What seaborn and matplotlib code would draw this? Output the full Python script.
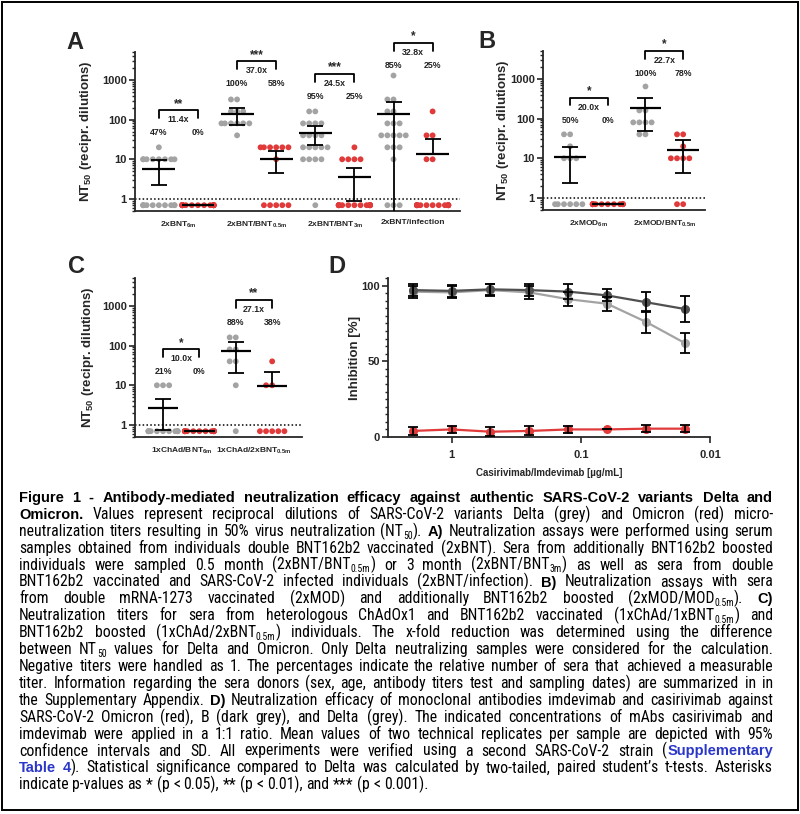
import numpy as np
import pandas as pd
import matplotlib
matplotlib.use('Agg')
import matplotlib.pyplot as plt
import matplotlib.ticker as mticker
from matplotlib import font_manager
from matplotlib.patches import Rectangle
import seaborn as sns

# ---------------- data ----------------
# Panel A: NT50 titers (negative samples plotted at 0.7)
A_GROUPS = ['2xBNT$_{6m}$', '2xBNT/BNT$_{0.5m}$', '2xBNT/BNT$_{3m}$', '2xBNT/infection']
A_DELTA = [
    [20, 10, 10, 10, 10, 10, 10, 10, 10, 0.7, 0.7, 0.7, 0.7, 0.7, 0.7, 0.7, 0.7, 0.7, 0.7],
    [320, 320, 160, 160, 160, 80, 80, 80, 80, 80, 80, 40],
    [160, 160, 80, 80, 80, 80, 40, 40, 40, 40, 20, 20, 20, 20, 20, 10, 10, 10, 10, 0.7],
    [1280, 320, 320, 160, 160, 80, 80, 80, 40, 40, 40, 40, 40, 20, 20, 20, 10, 0.7, 0.7, 0.7],
]
A_OMICRON = [
    [0.7, 0.7, 0.7, 0.7, 0.7, 0.7, 0.7, 0.7, 0.7, 0.7, 0.7, 0.7, 0.7, 0.7, 0.7, 0.7, 0.7, 0.7, 0.7],
    [20, 20, 20, 20, 20, 20, 10, 0.7, 0.7, 0.7, 0.7, 0.7],
    [20, 10, 10, 10, 10, 0.7, 0.7, 0.7, 0.7, 0.7, 0.7, 0.7, 0.7, 0.7, 0.7, 0.7, 0.7, 0.7, 0.7, 0.7],
    [160, 40, 40, 10, 10, 0.7, 0.7, 0.7, 0.7, 0.7, 0.7, 0.7, 0.7, 0.7, 0.7, 0.7, 0.7, 0.7, 0.7, 0.7],
]
# mean and error limits per slot (Delta, Omicron, Delta, Omicron, ...)
A_MEAN = [5.7, 0.7, 139, 10.4, 46, 3.5, 139, 13.5]
A_LOW = [2.3, 0.7, 73, 4.5, 23, 0.9, 0.3, 13.5]
A_HIGH = [9.5, 0.7, 200, 16.4, 68, 6.2, 280, 32]
A_BRACKET = [170, 2900, 1380, 8300]
A_STARS = ['**', '***', '***', '*']
A_FOLD = ['11.4x', '37.0x', '24.5x', '32.8x']
A_PCT = [('47%', '0%'), ('100%', '58%'), ('95%', '25%'), ('85%', '25%')]

# Panel B
B_GROUPS = ['2xMOD$_{6m}$', '2xMOD/BNT$_{0.5m}$']
B_DELTA = [
    [40, 40, 20, 10, 10, 10, 0.7, 0.7, 0.7, 0.7, 0.7, 0.7],
    [640, 160, 160, 80, 80, 80, 80, 40, 40],
]
B_OMICRON = [
    [0.7, 0.7, 0.7, 0.7, 0.7, 0.7, 0.7, 0.7, 0.7, 0.7, 0.7, 0.7],
    [40, 40, 20, 10, 10, 10, 10, 0.7, 0.7],
]
B_MEAN = [10.6, 0.7, 186, 16.5]
B_LOW = [2.4, 0.7, 48, 4.3]
B_HIGH = [18.8, 0.7, 325, 28.5]
B_BRACKET = [330, 5000]
B_STARS = ['*', '*']
B_FOLD = ['20.0x', '22.7x']
B_PCT = [('50%', '0%'), ('100%', '78%')]

# Panel C
C_GROUPS = ['1xChAd/BNT$_{6m}$', '1xChAd/2xBNT$_{0.5m}$']
C_DELTA = [
    [10, 10, 10, 0.7, 0.7, 0.7, 0.7, 0.7, 0.7, 0.7, 0.7, 0.7, 0.7, 0.7],
    [160, 160, 80, 80, 40, 40, 10, 0.7],
]
C_OMICRON = [
    [0.7, 0.7, 0.7, 0.7, 0.7, 0.7, 0.7, 0.7, 0.7, 0.7, 0.7, 0.7, 0.7, 0.7],
    [40, 10, 10, 0.7, 0.7, 0.7, 0.7, 0.7],
]
C_MEAN = [2.7, 0.7, 73, 9.4]
C_LOW = [0.75, 0.7, 20, 9.4]
C_HIGH = [4.6, 0.7, 123, 21]
C_BRACKET = [80, 1400]
C_STARS = ['*', '**']
C_FOLD = ['10.0x', '27.1x']
C_PCT = [('21%', '0%'), ('88%', '38%')]

# Panel D: inhibition vs casirivimab/imdevimab concentration
D_CONC = [2, 1, 0.5, 0.25, 0.125, 0.0625, 0.03125, 0.015625]
D_DELTA = [96, 95.5, 97, 95.5, 91, 88, 76, 62]
D_DELTA_ERR = [4, 4, 4, 4.5, 4.5, 4.5, 7, 6.5]
D_B = [97, 96.5, 97.5, 97, 96, 93.5, 89, 84.5]
D_B_ERR = [4, 4, 3.5, 4, 5, 4, 6.5, 8.5]
D_OMICRON = [4, 5, 3.5, 4, 5, 5, 5.5, 5.5]
D_OMICRON_ERR = [2.5, 2.5, 3, 3, 2.5, 0, 2.5, 2.5]

CAPTION = [
    [('Figure 1 - Antibody-mediated neutralization efficacy against authentic SARS-CoV-2 variants Delta and', 'b')],
    [('Omicron.', 'b'), (' Values represent reciprocal dilutions of SARS-CoV-2 variants Delta (grey) and Omicron (red) micro-', 'r')],
    [('neutralization titers resulting in 50% virus neutralization (NT', 'r'), ('50', 's'), ('). ', 'r'),
     ('A)', 'b'), (' Neutralization assays were performed using serum', 'r')],
    [('samples obtained from individuals double BNT162b2 vaccinated (2xBNT). Sera from additionally BNT162b2 boosted', 'r')],
    [('individuals were sampled 0.5 month (2xBNT/BNT', 'r'), ('0.5m', 's'), (') or 3 month (2xBNT/BNT', 'r'),
     ('3m', 's'), (') as well as sera from double', 'r')],
    [('BNT162b2 vaccinated and SARS-CoV-2 infected individuals (2xBNT/infection). ', 'r'), ('B)', 'b'),
     (' Neutralization assays with sera', 'r')],
    [('from double mRNA-1273 vaccinated (2xMOD) and additionally BNT162b2 boosted (2xMOD/MOD', 'r'), ('0.5m', 's'),
     ('). ', 'r'), ('C)', 'b')],
    [('Neutralization titers for sera from heterologous ChAdOx1 and BNT162b2 vaccinated (1xChAd/1xBNT', 'r'),
     ('0.5m', 's'), (') and', 'r')],
    [('BNT162b2 boosted (1xChAd/2xBNT', 'r'), ('0.5m', 's'),
     (') individuals. The x-fold reduction was determined using the difference', 'r')],
    [('between NT', 'r'), ('50', 's'),
     (' values for Delta and Omicron. Only Delta neutralizing samples were considered for the calculation.', 'r')],
    [('Negative titers were handled as 1. The percentages indicate the relative number of sera that achieved a measurable', 'r')],
    [('titer. Information regarding the sera donors (sex, age, antibody titers test and sampling dates) are summarized in in', 'r')],
    [('the Supplementary Appendix. ', 'r'), ('D)', 'b'),
     (' Neutralization efficacy of monoclonal antibodies imdevimab and casirivimab against', 'r')],
    [('SARS-CoV-2 Omicron (red), B (dark grey), and Delta (grey). The indicated concentrations of mAbs casirivimab and', 'r')],
    [('imdevimab were applied in a 1:1 ratio. Mean values of two technical replicates per sample are depicted with 95%', 'r')],
    [('confidence intervals and SD. All experiments were verified using a second SARS-CoV-2 strain (', 'r'),
     ('Supplementary', 'bl')],
    [('Table 4', 'bl'), ('). Statistical significance compared to Delta was calculated by two-tailed, paired student\u2019s t-tests. Asterisks', 'r')],
    [('indicate p-values as * (p < 0.05), ** (p < 0.01), and *** (p < 0.001).', 'r')],
]

GREY = '#a3a3a3'
RED = '#e03a3a'
DARK = '#505050'

W, H = 800, 814

sns.set_style('ticks')
plt.rcParams['font.family'] = ['Liberation Sans', 'DejaVu Sans']
plt.rcParams['mathtext.fontset'] = 'custom'
plt.rcParams['mathtext.rm'] = 'Liberation Sans'
plt.rcParams['mathtext.bf'] = 'Liberation Sans:bold'
plt.rcParams['mathtext.it'] = 'Liberation Sans:italic'
plt.rcParams['mathtext.default'] = 'regular'
plt.rcParams['font.weight'] = 'bold'


def px_axes(fig, left, top, right, bottom):
    return fig.add_axes([left / W, 1 - bottom / H, (right - left) / W, (bottom - top) / H])


def style_axis(ax):
    sns.despine(ax=ax)
    for s in ('left', 'bottom'):
        ax.spines[s].set_linewidth(1.3)
    ax.tick_params(axis='both', which='major', width=1.2, length=4, labelsize=8, pad=2)
    ax.tick_params(axis='y', which='minor', width=1.0, length=2.2)


def titer_panel(ax, groups, delta, omicron, mean, low, high, brackets, stars, folds, pcts, xlim):
    ax.set_yscale('log')
    rows, order = [], []
    for i in range(len(groups)):
        for var, vals in (('Delta', delta[i]), ('Omicron', omicron[i])):
            slot = f'{i}{var}'
            order.append(slot)
            rows += [(slot, v, var) for v in vals]
    df = pd.DataFrame(rows, columns=['slot', 'titer', 'variant'])
    sns.swarmplot(data=df, x='slot', y='titer', hue='variant', order=order,
                  palette={'Delta': GREY, 'Omicron': RED}, size=4.2, linewidth=0,
                  legend=False, ax=ax, zorder=2, warn_thresh=1)
    pos = np.arange(len(order))
    mean, low, high = np.array(mean), np.array(low), np.array(high)
    ax.errorbar(pos, mean, yerr=[mean - low, high - mean], fmt='none', ecolor='black',
                elinewidth=1.3, capsize=5.5, capthick=1.3, zorder=4)
    ax.hlines(mean, pos - 0.42, pos + 0.42, color='black', lw=1.6, zorder=4)
    ax.axhline(1, ls=(0, (1, 1.5)), color='black', lw=1.1, zorder=1)
    ax.set_ylim(0.5, 5000)
    ax.set_xlim(*xlim)
    ax.yaxis.set_major_locator(mticker.FixedLocator([1, 10, 100, 1000]))
    ax.yaxis.set_major_formatter(mticker.FixedFormatter(['1', '10', '100', '1000']))
    ax.yaxis.set_minor_locator(mticker.LogLocator(base=10, subs=np.arange(2, 10)))
    ax.yaxis.set_minor_formatter(mticker.NullFormatter())
    ax.set_xticks(np.arange(len(groups)) * 2 + 0.5)
    ax.set_xticklabels(groups)
    ax.set_xlabel('')
    ax.set_ylabel('NT$_{50}$ (recipr. dilutions)', fontsize=9.5, fontweight='bold')
    style_axis(ax)
    ax.tick_params(axis='x', length=0, pad=6, labelsize=6)
    for i, y in enumerate(brackets):
        x0, x1 = 2 * i, 2 * i + 1
        leg = y / 10 ** 0.19
        ax.plot([x0, x0, x1, x1], [leg, y, y, leg], color='black', lw=1.3, clip_on=False)
        ax.text((x0 + x1) / 2, y * 1.04, stars[i], ha='center', va='bottom', fontsize=8.5,
                fontweight='bold', clip_on=False)
        ax.text((x0 + x1) / 2, y / 10 ** 0.23, folds[i], ha='center', va='center',
                fontsize=6.3, fontweight='bold', color='#222222', clip_on=False)
        for x, s in zip((x0, x1), pcts[i]):
            ax.text(x, y / 10 ** 0.56, s, ha='center', va='center', fontsize=6.3,
                    fontweight='bold', color='#222222', clip_on=False)


fig = plt.figure(figsize=(W / 100, H / 100), dpi=100)

axA = px_axes(fig, 135, 52, 460, 211)
titer_panel(axA, A_GROUPS, A_DELTA, A_OMICRON, A_MEAN, A_LOW, A_HIGH,
            A_BRACKET, A_STARS, A_FOLD, A_PCT, (-0.61, 7.7))
axA.yaxis.set_label_coords(-0.125, 0.5)

axB = px_axes(fig, 543, 51, 705, 210)
titer_panel(axB, B_GROUPS, B_DELTA, B_OMICRON, B_MEAN, B_LOW, B_HIGH,
            B_BRACKET, B_STARS, B_FOLD, B_PCT, (-0.72, 3.58))
axB.yaxis.set_label_coords(-0.2, 0.5)

axC = px_axes(fig, 135, 278, 302, 437)
titer_panel(axC, C_GROUPS, C_DELTA, C_OMICRON, C_MEAN, C_LOW, C_HIGH,
            C_BRACKET, C_STARS, C_FOLD, C_PCT, (-0.77, 3.82))
axC.yaxis.set_label_coords(-0.235, 0.5)

# Panel D
axD = px_axes(fig, 388, 278, 710, 437)
d_rows = []
for var, vals in (('Delta', D_DELTA), ('B', D_B), ('Omicron', D_OMICRON)):
    d_rows += [(c, v, var) for c, v in zip(D_CONC, vals)]
df_d = pd.DataFrame(d_rows, columns=['conc', 'inhibition', 'variant'])
axD.set_xscale('log')
sns.lineplot(data=df_d, x='conc', y='inhibition', hue='variant', hue_order=['Delta', 'B', 'Omicron'],
             palette={'Delta': GREY, 'B': DARK, 'Omicron': RED}, marker='o', markersize=6.5,
             markeredgewidth=0, linewidth=1.6, errorbar=None, legend=False, ax=axD, zorder=2)
for vals, err in ((D_DELTA, D_DELTA_ERR), (D_B, D_B_ERR), (D_OMICRON, D_OMICRON_ERR)):
    axD.errorbar(D_CONC, vals, yerr=err, fmt='none', ecolor='black', elinewidth=1.3,
                 capsize=3.5, capthick=1.3, zorder=3)
axD.set_xlim(3.1, 0.01)
axD.set_ylim(0, 105)
axD.xaxis.set_major_locator(mticker.FixedLocator([1, 0.1, 0.01]))
axD.xaxis.set_major_formatter(mticker.FixedFormatter(['1', '0.1', '0.01']))
axD.xaxis.set_minor_locator(mticker.NullLocator())
axD.yaxis.set_major_locator(mticker.FixedLocator([0, 50, 100]))
axD.yaxis.set_minor_locator(mticker.MultipleLocator(5))
axD.set_xlabel('Casirivimab/Imdevimab [\u00b5g/mL]', fontsize=7, fontweight='bold', labelpad=6)
axD.set_ylabel('Inhibition [%]', fontsize=9.5, fontweight='bold')
style_axis(axD)
axD.tick_params(axis='x', pad=5)
axD.yaxis.set_label_coords(-0.085, 0.5)

for letter, x, y in (('A', 66, 49), ('B', 478, 48), ('C', 68, 273), ('D', 328, 273)):
    fig.text(x / W, 1 - y / H, letter, fontsize=17, fontweight='bold', va='baseline', ha='left')

# ---------------- justified caption ----------------
# prefer a narrow sans for the body text, as in the reference
narrow_family, narrow_stretch = 'Liberation Sans', 'normal'
entries = font_manager.fontManager.ttflist
for fam in ('Liberation Sans Narrow', 'Arial Narrow', 'Roboto Condensed', 'Open Sans Condensed',
            'Noto Sans Condensed', 'Noto Sans', 'Open Sans', 'Roboto'):
    hit = [e for e in entries if e.name == fam and e.style == 'normal'
           and ('Narrow' in fam or 'Condensed' in fam or e.stretch in ('condensed', 'semi-condensed'))]
    if hit:
        narrow_family = fam
        narrow_stretch = 'normal' if ('Narrow' in fam or 'Condensed' in fam) else hit[0].stretch
        break

renderer = fig.canvas.get_renderer()


def fonts(fs, bfs):
    return {
        'r': dict(family=narrow_family, stretch=narrow_stretch, size=fs, weight='normal', color='black'),
        'b': dict(family='Liberation Sans', size=bfs, weight='bold', color='black'),
        'bl': dict(family='Liberation Sans', size=bfs, weight='bold', color='#2a36c8'),
        's': dict(family=narrow_family, stretch=narrow_stretch, size=fs * 0.62, weight='normal', color='black'),
    }


def text_width(s, props):
    t = fig.text(0, 0, s, **props)
    w = t.get_window_extent(renderer).width
    t.remove()
    return w


def split_words(line):
    words, cur = [], []
    for text, st in line:
        parts = text.split(' ')
        for j, part in enumerate(parts):
            if j > 0 and cur:
                words.append(cur)
                cur = []
            if part:
                cur.append((part, st))
    if cur:
        words.append(cur)
    return words


LEFT, RIGHT = 19, 773
TOP_BASE, STEP = 502, 16.9
lines = [split_words(l) for l in CAPTION]


def measure(fs, bfs):
    f = fonts(fs, bfs)
    space = text_width('a a', f['r']) - text_width('aa', f['r'])
    widths = [[[text_width(p, f[st]) for p, st in w] for w in words] for words in lines]
    return f, space, widths


def line_ratio(ws, space):
    return (sum(sum(w) for w in ws) + space * (len(ws) - 1)) / (RIGHT - LEFT)


# regular text size fitted on the body lines, bold title line fitted on its own
fs = bfs = 10.5
f, space, widths = measure(fs, bfs)
body = max(line_ratio(ws, space) for ws in widths[1:])
fs = min(12.5, fs * 0.975 / body)
title = line_ratio(widths[0], space)
if title > 0.985:
    bfs = bfs * 0.985 / title
f, space, widths = measure(fs, bfs)

for li, (words, ws) in enumerate(zip(lines, widths)):
    total = sum(sum(w) for w in ws)
    if li < len(lines) - 1 and len(words) > 1:
        gap = (RIGHT - LEFT - total) / (len(words) - 1)
    else:
        gap = space
    x = LEFT
    y = TOP_BASE + STEP * li
    for word, wl in zip(words, ws):
        for (p, st), pw in zip(word, wl):
            dy = fs * 0.18 * 100 / 72 if st == 's' else 0
            fig.text(x / W, 1 - (y + dy) / H, p, va='baseline', ha='left', **f[st])
            x += pw
        x += gap

fig.add_artist(Rectangle((1.5 / W, 1 - 810 / H), 796 / W, 808 / H, transform=fig.transFigure,
                         fill=False, ec='black', lw=1.4))

fig.savefig('out.png', dpi=100)
